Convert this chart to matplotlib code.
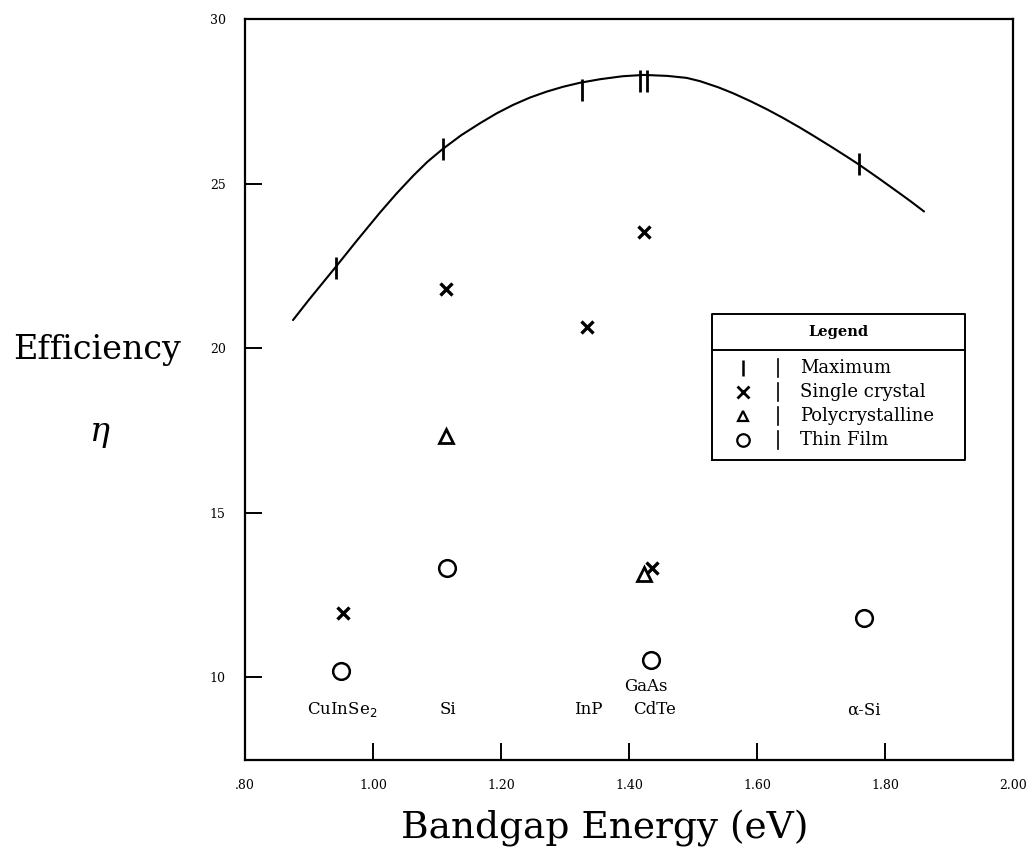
import matplotlib
matplotlib.use("Agg")
import matplotlib.pyplot as plt
from matplotlib.lines import Line2D

# ---------------- data ----------------
curve_x = [0.875, 0.900, 0.942, 0.975, 1.011, 1.037, 1.063, 1.085, 1.109, 1.138,
           1.167, 1.193, 1.219, 1.245, 1.271, 1.297, 1.323, 1.355, 1.390, 1.423,
           1.460, 1.490, 1.511, 1.540, 1.563, 1.590, 1.615, 1.640, 1.667, 1.690,
           1.719, 1.740, 1.759, 1.790, 1.823, 1.840, 1.861]
curve_y = [20.85, 21.47, 22.47, 23.27, 24.12, 24.70, 25.24, 25.66, 26.05, 26.47,
           26.83, 27.13, 27.39, 27.61, 27.79, 27.94, 28.06, 28.17, 28.26, 28.30,
           28.27, 28.21, 28.11, 27.92, 27.74, 27.50, 27.26, 27.00, 26.70, 26.43,
           26.08, 25.82, 25.58, 25.16, 24.70, 24.46, 24.15]

max_x = [0.942, 1.109, 1.326, 1.417, 1.428, 1.759]
max_y = [22.42, 26.05, 27.85, 28.13, 28.13, 25.58]

single_x = [0.953, 1.114, 1.334, 1.423, 1.436]
single_y = [11.94, 21.79, 20.64, 23.53, 13.31]

poly_x = [1.114, 1.423]
poly_y = [17.33, 13.13]

film_x = [0.950, 1.116, 1.434, 1.767]
film_y = [10.18, 13.31, 10.52, 11.80]

material_names = ["CuInSe$_2$", "Si", "InP", "GaAs", "CdTe", "\u03b1-Si"]
material_gap = [0.952, 1.117, 1.336, 1.427, 1.440, 1.767]

xtick_vals = [0.80, 1.00, 1.20, 1.40, 1.60, 1.80, 2.00]
xtick_labels = [".80", "1.00", "1.20", "1.40", "1.60", "1.80", "2.00"]
ytick_vals = [10, 15, 20, 25, 30]
ytick_labels = ["10", "15", "20", "25", "30"]

legend_title = "Legend"
legend_labels = ["Maximum", "Single crystal", "Polycrystalline", "Thin Film"]

# ---------------- figure ----------------
fig = plt.figure(figsize=(10.36, 8.55), dpi=100)
ax = fig.add_axes([0.2365, 0.1111, 0.7413, 0.8667])
ax.set_xlim(0.80, 2.00)
ax.set_ylim(7.48, 30)

for s in ax.spines.values():
    s.set_linewidth(1.6)
    s.set_color("black")

tickfont = dict(family="DejaVu Serif", size=9)
ax.set_xticks(xtick_vals)
ax.set_xticklabels(xtick_labels, **tickfont)
ax.set_yticks(ytick_vals)
ax.set_yticklabels(ytick_labels, **tickfont)
ax.tick_params(axis="both", direction="in", length=12, width=1.4, color="black")
ax.tick_params(axis="x", pad=14)
ax.tick_params(axis="y", pad=14)

# fitted maximum-efficiency curve
ax.plot(curve_x, curve_y, color="black", lw=1.5, solid_capstyle="round",
        solid_joinstyle="round")

# markers
ax.plot(max_x, max_y, ls="none", marker="|", ms=16, mew=2.0, color="black")
ax.plot(single_x, single_y, ls="none", marker="x", ms=9, mew=2.4, color="black")
ax.plot(poly_x, poly_y, ls="none", marker="^", ms=10, mew=2.0,
        mfc="white", mec="black")
ax.plot(film_x, film_y, ls="none", marker="o", ms=12, mew=1.8,
        mfc="none", mec="black")

# material labels under the points
for name, gx in zip(material_names, material_gap):
    yy = 9.70 if name == "GaAs" else 9.0
    ax.text(gx, yy, name, ha="center", va="center",
            family="DejaVu Serif", fontsize=12)

# ---------------- custom legend box ----------------
L, R, B, T = 0.608, 0.9375, 0.405, 0.602
box_x = [L, R, R, L, L]
box_y = [B, B, T, T, B]
ax.add_line(Line2D(box_x, box_y, transform=ax.transAxes, color="black", lw=1.4))
ax.add_line(Line2D([L, R], [0.553, 0.553], transform=ax.transAxes,
                   color="black", lw=1.4))
ax.text((L + R) / 2, 0.578, legend_title, transform=ax.transAxes,
        ha="center", va="center", family="DejaVu Serif", fontsize=10.5,
        fontweight="bold")
rows = [0.529, 0.497, 0.464, 0.432]
leg_markers = [dict(marker="|", ms=11, mew=1.8, mfc="black"),
               dict(marker="x", ms=8, mew=2.0, mfc="black"),
               dict(marker="^", ms=7, mew=1.6, mfc="white"),
               dict(marker="o", ms=9, mew=1.6, mfc="none")]
for ry, lab, mk in zip(rows, legend_labels, leg_markers):
    ax.plot([0.648], [ry], transform=ax.transAxes, ls="none",
            color="black", mec="black", **mk)
    ax.add_line(Line2D([0.694, 0.694], [ry - 0.012, ry + 0.012],
                       transform=ax.transAxes, color="black", lw=1.2))
    ax.text(0.723, ry, lab, transform=ax.transAxes, ha="left", va="center",
            family="DejaVu Serif", fontsize=13)

# ---------------- axis titles ----------------
fig.text(97 / 1036, 1 - 350 / 855, "Efficiency", ha="center", va="center",
         family="DejaVu Serif", fontsize=24)
fig.text(100 / 1036, 1 - 432 / 855, "\u03b7", ha="center", va="center",
         family="DejaVu Serif", style="italic", fontsize=24)
fig.text(605 / 1036, 1 - 828 / 855, "Bandgap Energy (eV)", ha="center",
         va="center", family="DejaVu Serif", fontsize=27)

fig.savefig("out.png", dpi=100)
